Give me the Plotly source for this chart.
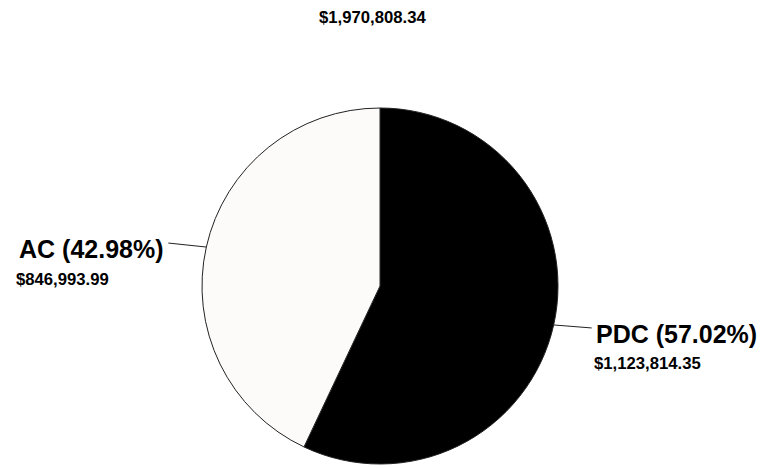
import math
import plotly.graph_objects as go

labels = ["PDC", "AC"]
values = [1123814.35, 846993.99]
colors = ["#000000", "#fcfbf9"]
total_label = "$1,970,808.34"

OFF = 8  # default page body margin
W, H = 777 - OFF, 468 - OFF
cx, cy, r = 380 - OFF, 286 - OFF, 178

fig = go.Figure(go.Pie(
    labels=labels, values=values, sort=False, direction="clockwise", rotation=0,
    marker=dict(colors=colors, line=dict(color="#222222", width=1)),
    textinfo="none", hoverinfo="label+value+percent",
    domain=dict(x=[(cx - r) / W, (cx + r) / W], y=[(H - cy - r) / H, (H - cy + r) / H]),
    showlegend=False,
))

def px(x):
    return x / W

def py(y):
    return 1 - y / H

tot = sum(values)
start = 0.0
annotations = []
shapes = []
for lab, v in zip(labels, values):
    frac = v / tot
    mid = (start + frac / 2) * 2 * math.pi
    start += frac
    ex = cx + r * math.sin(mid)
    ey = cy - r * math.cos(mid)
    side = 1 if math.sin(mid) > 0 else -1
    lx = ex + side * 38
    ly = ey + (3 if side > 0 else -4)
    shapes.append(dict(type="line", xref="paper", yref="paper",
                       x0=px(ex), y0=py(ey), x1=px(lx), y1=py(ly),
                       line=dict(color="#222222", width=1)))
    pct = f"{lab} ({frac*100:.2f}%)"
    money = f"${v:,.2f}"
    annotations.append(dict(x=px(lx + side * 2), y=py(ly + 6), xref="paper", yref="paper",
                            text=f"<b>{pct}</b>", showarrow=False,
                            xanchor="left" if side > 0 else "right", yanchor="middle",
                            font=dict(family="Liberation Sans, Arial", size=25, color="#000")))
    mx = lx if side > 0 else lx - 154
    annotations.append(dict(x=px(mx), y=py(ly + 36), xref="paper", yref="paper",
                            text=f"<b>{money}</b>", showarrow=False,
                            xanchor="left", yanchor="middle",
                            font=dict(family="Liberation Sans, Arial", size=16.7, color="#000")))

annotations.append(dict(x=px(372 - OFF), y=py(18 - OFF), xref="paper", yref="paper",
                        text=f"<b>{total_label}</b>", showarrow=False,
                        xanchor="center", yanchor="middle",
                        font=dict(family="Liberation Sans, Arial", size=16.7, color="#000")))

fig.update_layout(width=W, height=H, margin=dict(l=0, r=0, t=0, b=0),
                  paper_bgcolor="white", plot_bgcolor="white",
                  annotations=annotations, shapes=shapes)
fig.write_html("out.html")
